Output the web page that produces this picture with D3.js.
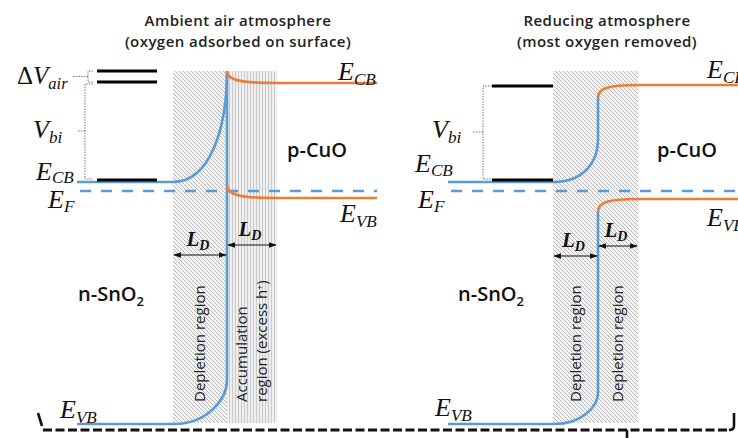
<!DOCTYPE html>
<html><head><meta charset="utf-8">
<script src="https://cdn.jsdelivr.net/npm/d3@7"></script>
<style>html,body{margin:0;padding:0;background:#fff;} svg{display:block;}</style>
</head><body><svg id="c" width="738" height="438"></svg>
<script>
// ================= DATA =================
// two panels: ambient air / reducing atmosphere
const titleLine1 = ["Ambient air atmosphere", "Reducing atmosphere"];
const titleLine2 = ["(oxygen adsorbed on surface)", "(most oxygen removed)"];
// positions along the device (arbitrary length units)
const bulkStartN     = [38.5, 224];
const refLineStart   = [48.5, 246];
const refLineEnd     = [78.5, 276.5];
const depletionStart = [86.5, 276.5];
const junction       = [113.5, 299];
const regionEnd      = [138.5, 319];
const bulkEndP       = [188.5, 369];
// energies relative to the Fermi level (eV, arbitrary)
const nCB          = [0.09, 0.09];
const nVB          = [-2.33, -2.33];
const nCBjunction  = [1.20, 0.93];
const nCBknee      = [1.20, 0.51];
const nVBknee      = [-1.89, -2.02];
const pCBjunction  = [1.20, 0.93];
const pCB          = [1.08, 1.06];
const pVBjunction  = [0.06, -0.21];
const pVB          = [-0.07, -0.08];
const upperRefs    = [[1.20, 1.09], [1.05]];
const lowerRef     = [0.11, 0.11];
const regionTop = 1.20, regionBottom = -2.32;
const regionLabels = [[["Depletion region"], ["Accumulation", "region (excess h\u207A)"]],
                      [["Depletion region"], ["Depletion region"]]];
const materialN = "n-SnO", materialP = "p-CuO";

// ================= SCALES =================
const x = d3.scaleLinear().domain([0, 369]).range([0, 738]);
const y = d3.scaleLinear().domain([1.91, -2.47]).range([0, 438]);

const BLUE = "#5B9BD5", ORANGE = "#ED7D31";
const svg = d3.select("#c");
const defs = svg.append("defs");

// patterns
const hatch = defs.append("pattern").attr("id","hatch").attr("patternUnits","userSpaceOnUse")
  .attr("width",4).attr("height",4);
hatch.append("rect").attr("width",4).attr("height",4).attr("fill","#f4f4f4");
hatch.append("path").attr("d","M-1,-1 L5,5 M-1,3 L1,5 M3,-1 L5,1").attr("stroke","#b0b0b0").attr("stroke-width",0.85);
const vert = defs.append("pattern").attr("id","vert").attr("patternUnits","userSpaceOnUse")
  .attr("width",3).attr("height",4);
vert.append("rect").attr("width",3).attr("height",4).attr("fill","#efefef");
vert.append("path").attr("d","M1.5,0 L1.5,4").attr("stroke","#c6c6c6").attr("stroke-width",0.9);

defs.append("marker").attr("id","ah").attr("viewBox","0 0 10 10").attr("refX",9).attr("refY",5)
  .attr("markerWidth",7).attr("markerHeight",7).attr("orient","auto-start-reverse")
  .append("path").attr("d","M0,1.5 L10,5 L0,8.5 Z").attr("fill","#111");

// curve helpers: flat -> vertical, vertical -> flat
function flatToVert(p, x0, y0, x1, y1, kx, ky) {
  p.bezierCurveTo(x0 + kx*(x1-x0), y0, x1, y0 + ky*(y1-y0), x1, y1);
}
function vertToFlat(p, x0, y0, x1, y1, ky, kx) {
  p.bezierCurveTo(x0, y0 + ky*(y1-y0), x0 + kx*(x1-x0), y1, x1, y1);
}

// ================= DRAW PANELS =================
[0,1].forEach(i => {
  const g = svg.append("g");
  // regions
  if (i === 0) {
    g.append("rect").attr("x", x(depletionStart[i])).attr("y", y(regionTop))
      .attr("width", x(junction[i]) - x(depletionStart[i])).attr("height", y(regionBottom) - y(regionTop))
      .attr("fill","url(#hatch)");
    g.append("rect").attr("x", x(junction[i])).attr("y", y(regionTop))
      .attr("width", x(regionEnd[i]) - x(junction[i])).attr("height", y(regionBottom) - y(regionTop))
      .attr("fill","url(#vert)");
  } else {
    g.append("rect").attr("x", x(depletionStart[i])).attr("y", y(regionTop))
      .attr("width", x(regionEnd[i]) - x(depletionStart[i])).attr("height", y(regionBottom) - y(regionTop))
      .attr("fill","url(#hatch)");
  }

  // Fermi level (dashed)
  g.append("line").attr("x1", x(bulkStartN[i]) + 3).attr("x2", x(bulkEndP[i]))
    .attr("y1", y(0)).attr("y2", y(0))
    .attr("stroke", BLUE).attr("stroke-width", 2.6).attr("stroke-dasharray","11,10");

  // n-side bands (blue)
  const pb = d3.path();
  pb.moveTo(x(bulkStartN[i]), y(nCB[i]));
  pb.lineTo(x(depletionStart[i]), y(nCB[i]));
  flatToVert(pb, x(depletionStart[i]), y(nCB[i]), x(junction[i]), y(nCBknee[i]), 0.7, 0.5);
  pb.lineTo(x(junction[i]), y(nCBjunction[i]));
  g.append("path").attr("d", pb.toString()).attr("fill","none").attr("stroke",BLUE).attr("stroke-width",2.6);

  const pv = d3.path();
  pv.moveTo(x(bulkStartN[i]), y(nVB[i]));
  pv.lineTo(x(depletionStart[i]) + 2, y(nVB[i]));
  flatToVert(pv, x(depletionStart[i]) + 2, y(nVB[i]), x(junction[i]), y(nVBknee[i]), 0.6, 0.55);
  pv.lineTo(x(junction[i]), y(i === 0 ? nCBjunction[i] : pVBjunction[i]));
  g.append("path").attr("d", pv.toString()).attr("fill","none").attr("stroke",BLUE).attr("stroke-width",2.6);

  // p-side bands (orange)
  [[pCBjunction[i], pCB[i]], [pVBjunction[i], pVB[i]]].forEach(([e0, e1]) => {
    const po = d3.path();
    po.moveTo(x(junction[i]), y(e0));
    vertToFlat(po, x(junction[i]), y(e0), x(regionEnd[i]), y(e1), 0.75, 0.25);
    po.lineTo(x(bulkEndP[i]), y(e1));
    g.append("path").attr("d", po.toString()).attr("fill","none").attr("stroke",ORANGE).attr("stroke-width",2.6);
  });

  // black reference levels
  upperRefs[i].concat([lowerRef[i]]).forEach(e => {
    g.append("line").attr("x1", x(refLineStart[i])).attr("x2", x(refLineEnd[i]))
      .attr("y1", y(e)).attr("y2", y(e)).attr("stroke","#000").attr("stroke-width",3);
  });

  // L_D arrows
  const arrowY1 = i === 0 ? 255 : 256, arrowY2 = i === 0 ? 245 : 246;
  [[depletionStart[i], junction[i], arrowY1], [junction[i], regionEnd[i], arrowY2]].forEach(([a, b, ay]) => {
    g.append("line").attr("x1", x(a) + 1).attr("x2", x(b) - 1).attr("y1", ay).attr("y2", ay)
      .attr("stroke","#111").attr("stroke-width",1.1)
      .attr("marker-start","url(#ah)").attr("marker-end","url(#ah)");
    const t = g.append("text").attr("x", (x(a) + x(b)) / 2 - 2).attr("y", ay - 9)
      .attr("text-anchor","middle").attr("font-family","Liberation Serif").attr("font-style","italic")
      .attr("font-weight","bold").attr("font-size",21).attr("fill","#111");
    t.append("tspan").text("L");
    t.append("tspan").attr("font-size",14).attr("dy",4).text("D");
  });

  // region labels (rotated)
  const regions = [[depletionStart[i], junction[i]], [junction[i], regionEnd[i]]];
  regionLabels[i].forEach((lines, j) => {
    const cx = (x(regions[j][0]) + x(regions[j][1])) / 2;
    const n = lines.length;
    lines.forEach((ln, k) => {
      const lx = cx + (k - (n - 1) / 2) * 20 + 5;
      g.append("text").attr("transform", `translate(${lx},402) rotate(-90)`)
        .attr("font-family","Open Sans").attr("font-size",15).attr("fill","#222")
        .text(ln);
    });
  });

  // titles
  const tx = i === 0 ? 238 : 607;
  [titleLine1[i], titleLine2[i]].forEach((t, k) => {
    g.append("text").attr("x", tx).attr("y", 26 + k * 20.5).attr("text-anchor","middle")
      .attr("font-family","Open Sans").attr("font-weight",600).attr("font-size",15)
      .attr("letter-spacing",0.45).attr("fill","#222").text(t);
  });

  // material labels
  const nt = g.append("text").attr("x", i === 0 ? 78 : 458).attr("y", 301)
    .attr("font-family","Open Sans").attr("font-weight",600).attr("font-size",20).attr("fill","#111");
  nt.append("tspan").text(materialN);
  nt.append("tspan").attr("font-size",13).attr("dy",5).text("2");
  g.append("text").attr("x", i === 0 ? 287 : 657).attr("y", 157)
    .attr("font-family","Open Sans").attr("font-weight",600).attr("font-size",20).attr("fill","#111").text(materialP);
});

// ================= MATH LABELS =================
function mathLabel(px, py, main, sub, size, subDy, upright) {
  const s = size || 26;
  const t = svg.append("text").attr("x", px).attr("y", py)
    .attr("font-family","Liberation Serif").attr("font-style","italic")
    .attr("font-size", s).attr("fill","#111");
  if (upright) t.append("tspan").attr("font-style","normal").text(upright);
  t.append("tspan").text(main);
  t.append("tspan").attr("font-size", s * 0.66).attr("dy", subDy == null ? 5 : subDy).text(sub);
}
mathLabel(17, 84, "V", "air", 25, 5, "\u0394");
mathLabel(33, 138, "V", "bi");
mathLabel(36, 180, "E", "CB", 26, 3);
mathLabel(48, 208, "E", "F", 26, 4);
mathLabel(338, 80, "E", "CB");
mathLabel(340, 222, "E", "VB");
mathLabel(60, 418, "E", "VB");
mathLabel(432, 138, "V", "bi");
mathLabel(415, 172, "E", "CB", 26, 4);
mathLabel(418, 208, "E", "F", 26, 4);
mathLabel(707, 78, "E", "CB");
mathLabel(707, 226, "E", "VB");
mathLabel(435, 416, "E", "VB");

// ================= BRACKETS =================
const dotted = {stroke:"#777", "stroke-width":1, "stroke-dasharray":"1.5,1.2", fill:"none"};
function dpath(d) { const p = svg.append("path").attr("d", d); Object.entries(dotted).forEach(([k,v]) => p.attr(k,v)); }
// ΔV_air
dpath(`M93,${y(1.20)} L88,${y(1.20)} L88,${y(1.09)} L93,${y(1.09)} M88,${(y(1.20)+y(1.09))/2} L73,${(y(1.20)+y(1.09))/2}`);
// V_bi left
dpath(`M93,${y(1.07)} L85,${y(1.07)} L85,${y(0.12)} L93,${y(0.12)} M85,${y(0.60)} L77,${y(0.60)}`);
// V_bi right
dpath(`M492,${y(1.05)} L483,${y(1.05)} L483,${y(0.12)} L492,${y(0.12)} M483,${y(0.59)} L472,${y(0.59)}`);

// bottom dashed brace
svg.append("path").attr("d","M38,413 L42,426").attr("stroke","#111").attr("stroke-width",2.6).attr("fill","none");
svg.append("path").attr("d","M43,430 L729,430").attr("stroke","#111").attr("stroke-width",2.8)
  .attr("stroke-dasharray","9,3.5").attr("fill","none");
svg.append("path").attr("d","M734,413 L734,426 Q734,430 729,430").attr("stroke","#111").attr("stroke-width",2.6).attr("fill","none");
svg.append("path").attr("d","M627,430 L627,438").attr("stroke","#111").attr("stroke-width",2.6);
</script></body></html>
